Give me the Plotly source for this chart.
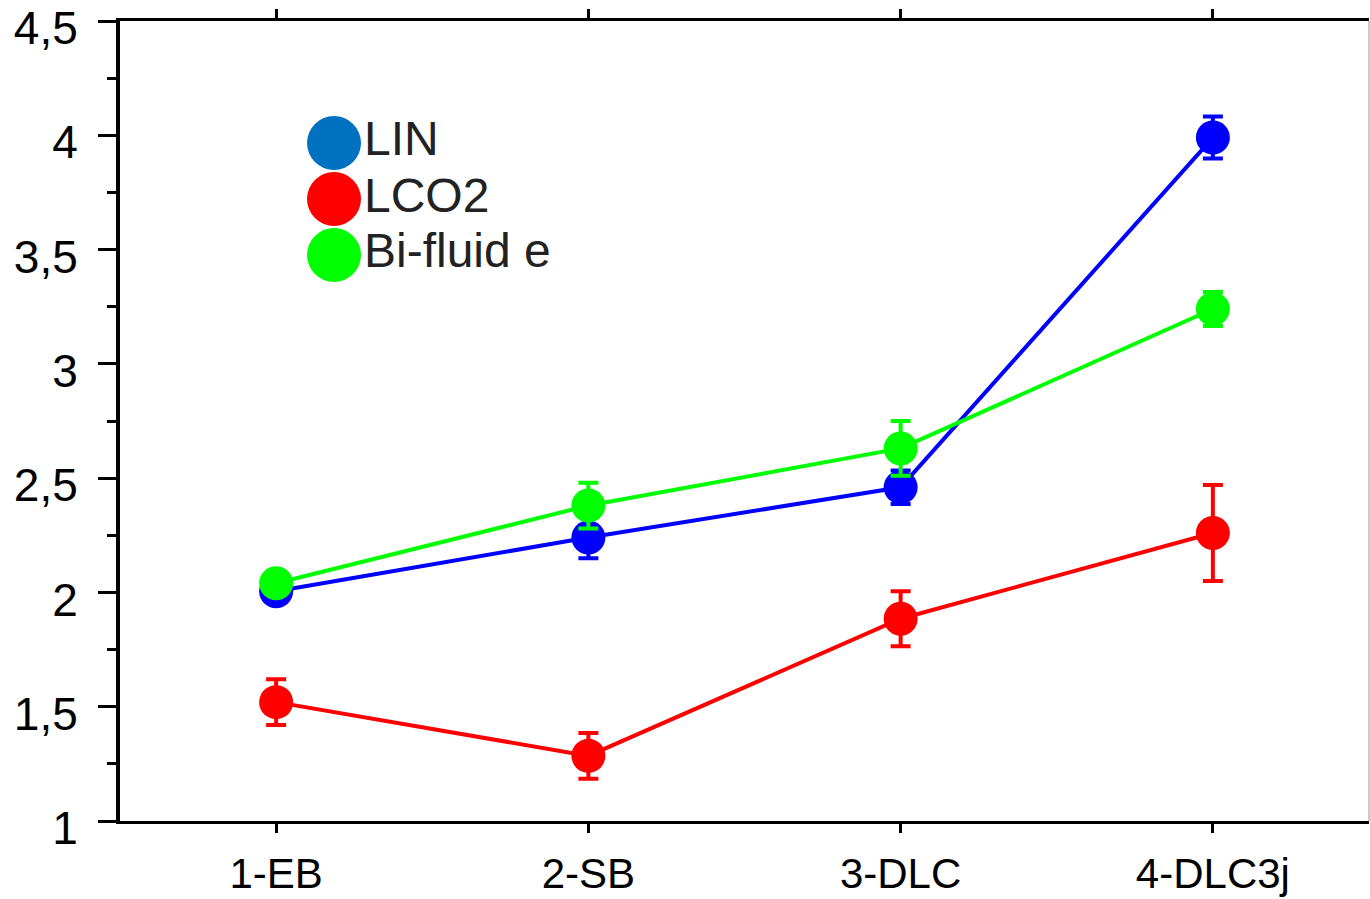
import plotly.graph_objects as go

categories = ["1-EB", "2-SB", "3-DLC", "4-DLC3j"]
x_pos = [1, 2, 3, 4]

series_names = ["LIN", "LCO2", "Bi-fluid e"]
lin_values = [2.005, 2.24, 2.46, 3.99]
lin_errors = [0.05, 0.09, 0.073, 0.092]
lco2_values = [1.52, 1.285, 1.885, 2.26]
lco2_errors = [0.10, 0.10, 0.12, 0.21]
bifluide_values = [2.04, 2.38, 2.63, 3.24]
bifluide_errors = [0.05, 0.10, 0.12, 0.074]

line_colors = ["#0000FF", "#FF0000", "#00FF00"]
legend_colors = ["#0070C0", "#FF0000", "#00FF00"]

y_ticks = [1, 1.5, 2, 2.5, 3, 3.5, 4, 4.5]
y_tick_text = ["1", "1,5", "2", "2,5", "3", "3,5", "4", "4,5"]

fig = go.Figure()
for name, vals, errs, col in zip(series_names,
                                 [lin_values, lco2_values, bifluide_values],
                                 [lin_errors, lco2_errors, bifluide_errors],
                                 line_colors):
    fig.add_trace(go.Scatter(
        x=x_pos, y=vals, name=name, mode="lines+markers",
        line=dict(color=col, width=4),
        marker=dict(color=col, size=34, line=dict(width=0)),
        error_y=dict(type="data", array=errs, color=col, thickness=4, width=10),
        showlegend=False,
    ))

# custom legend (large circles + text)
leg_x = 334
leg_y = [143, 199, 255]
W, H = 1370, 899
ml, mr, mt, mb = 120, 1, 21, 78
pw, ph = W - ml - mr, H - mt - mb
def px_to_paper(px, py):
    return (px - ml) / pw, (H - mb - py) / ph

for name, col, ly in zip(series_names, legend_colors, leg_y):
    cx, cy = px_to_paper(leg_x, ly)
    fig.add_shape(type="circle", xref="paper", yref="paper",
                  xsizemode="pixel", ysizemode="pixel",
                  xanchor=cx, yanchor=cy, x0=-27, x1=27, y0=-27, y1=27,
                  fillcolor=col, line=dict(width=0))
    tx, ty = px_to_paper(362, ly - 4)
    fig.add_annotation(xref="paper", yref="paper", x=tx, y=ty,
                       xanchor="left", yanchor="middle", showarrow=False,
                       text=name, font=dict(size=48, color="#222222",
                                            family="Liberation Sans"))

# right thin grey border
fig.add_shape(type="line", xref="paper", yref="paper", x0=1, x1=1, y0=0, y1=1,
              line=dict(color="#999999", width=1))

fig.update_layout(
    width=W, height=H,
    margin=dict(l=ml, r=mr, t=mt, b=mb, autoexpand=False),
    plot_bgcolor="white", paper_bgcolor="white",
    font=dict(family="Liberation Sans", color="black"),
    xaxis=dict(range=[0.5, 4.5], tickvals=x_pos, ticktext=categories,
               showgrid=False, zeroline=False, showline=True, automargin=False,
               linecolor="black", linewidth=3, mirror="ticks",
               ticks="outside", ticklen=9, tickwidth=3, tickcolor="black",
               tickfont=dict(size=42), ticklabelstandoff=5,
               ticklabeloverflow="allow"),
    yaxis=dict(range=[1, 4.5], tickvals=y_ticks, ticktext=y_tick_text,
               showgrid=False, zeroline=False, showline=True, automargin=False,
               linecolor="black", linewidth=4,
               ticks="outside", ticklen=18, tickwidth=3, tickcolor="black",
               tickfont=dict(size=46), ticklabelstandoff=11, ticklabelshift=7,
               ticklabeloverflow="allow",
               minor=dict(ticks="outside", ticklen=9, tickwidth=3,
                          tickcolor="black", dtick=0.25, tick0=1, showgrid=False)),
)

fig.write_html("out.html", config={"displayModeBar": False},
               post_script="document.body.style.margin='0';document.body.style.overflow='hidden';")
